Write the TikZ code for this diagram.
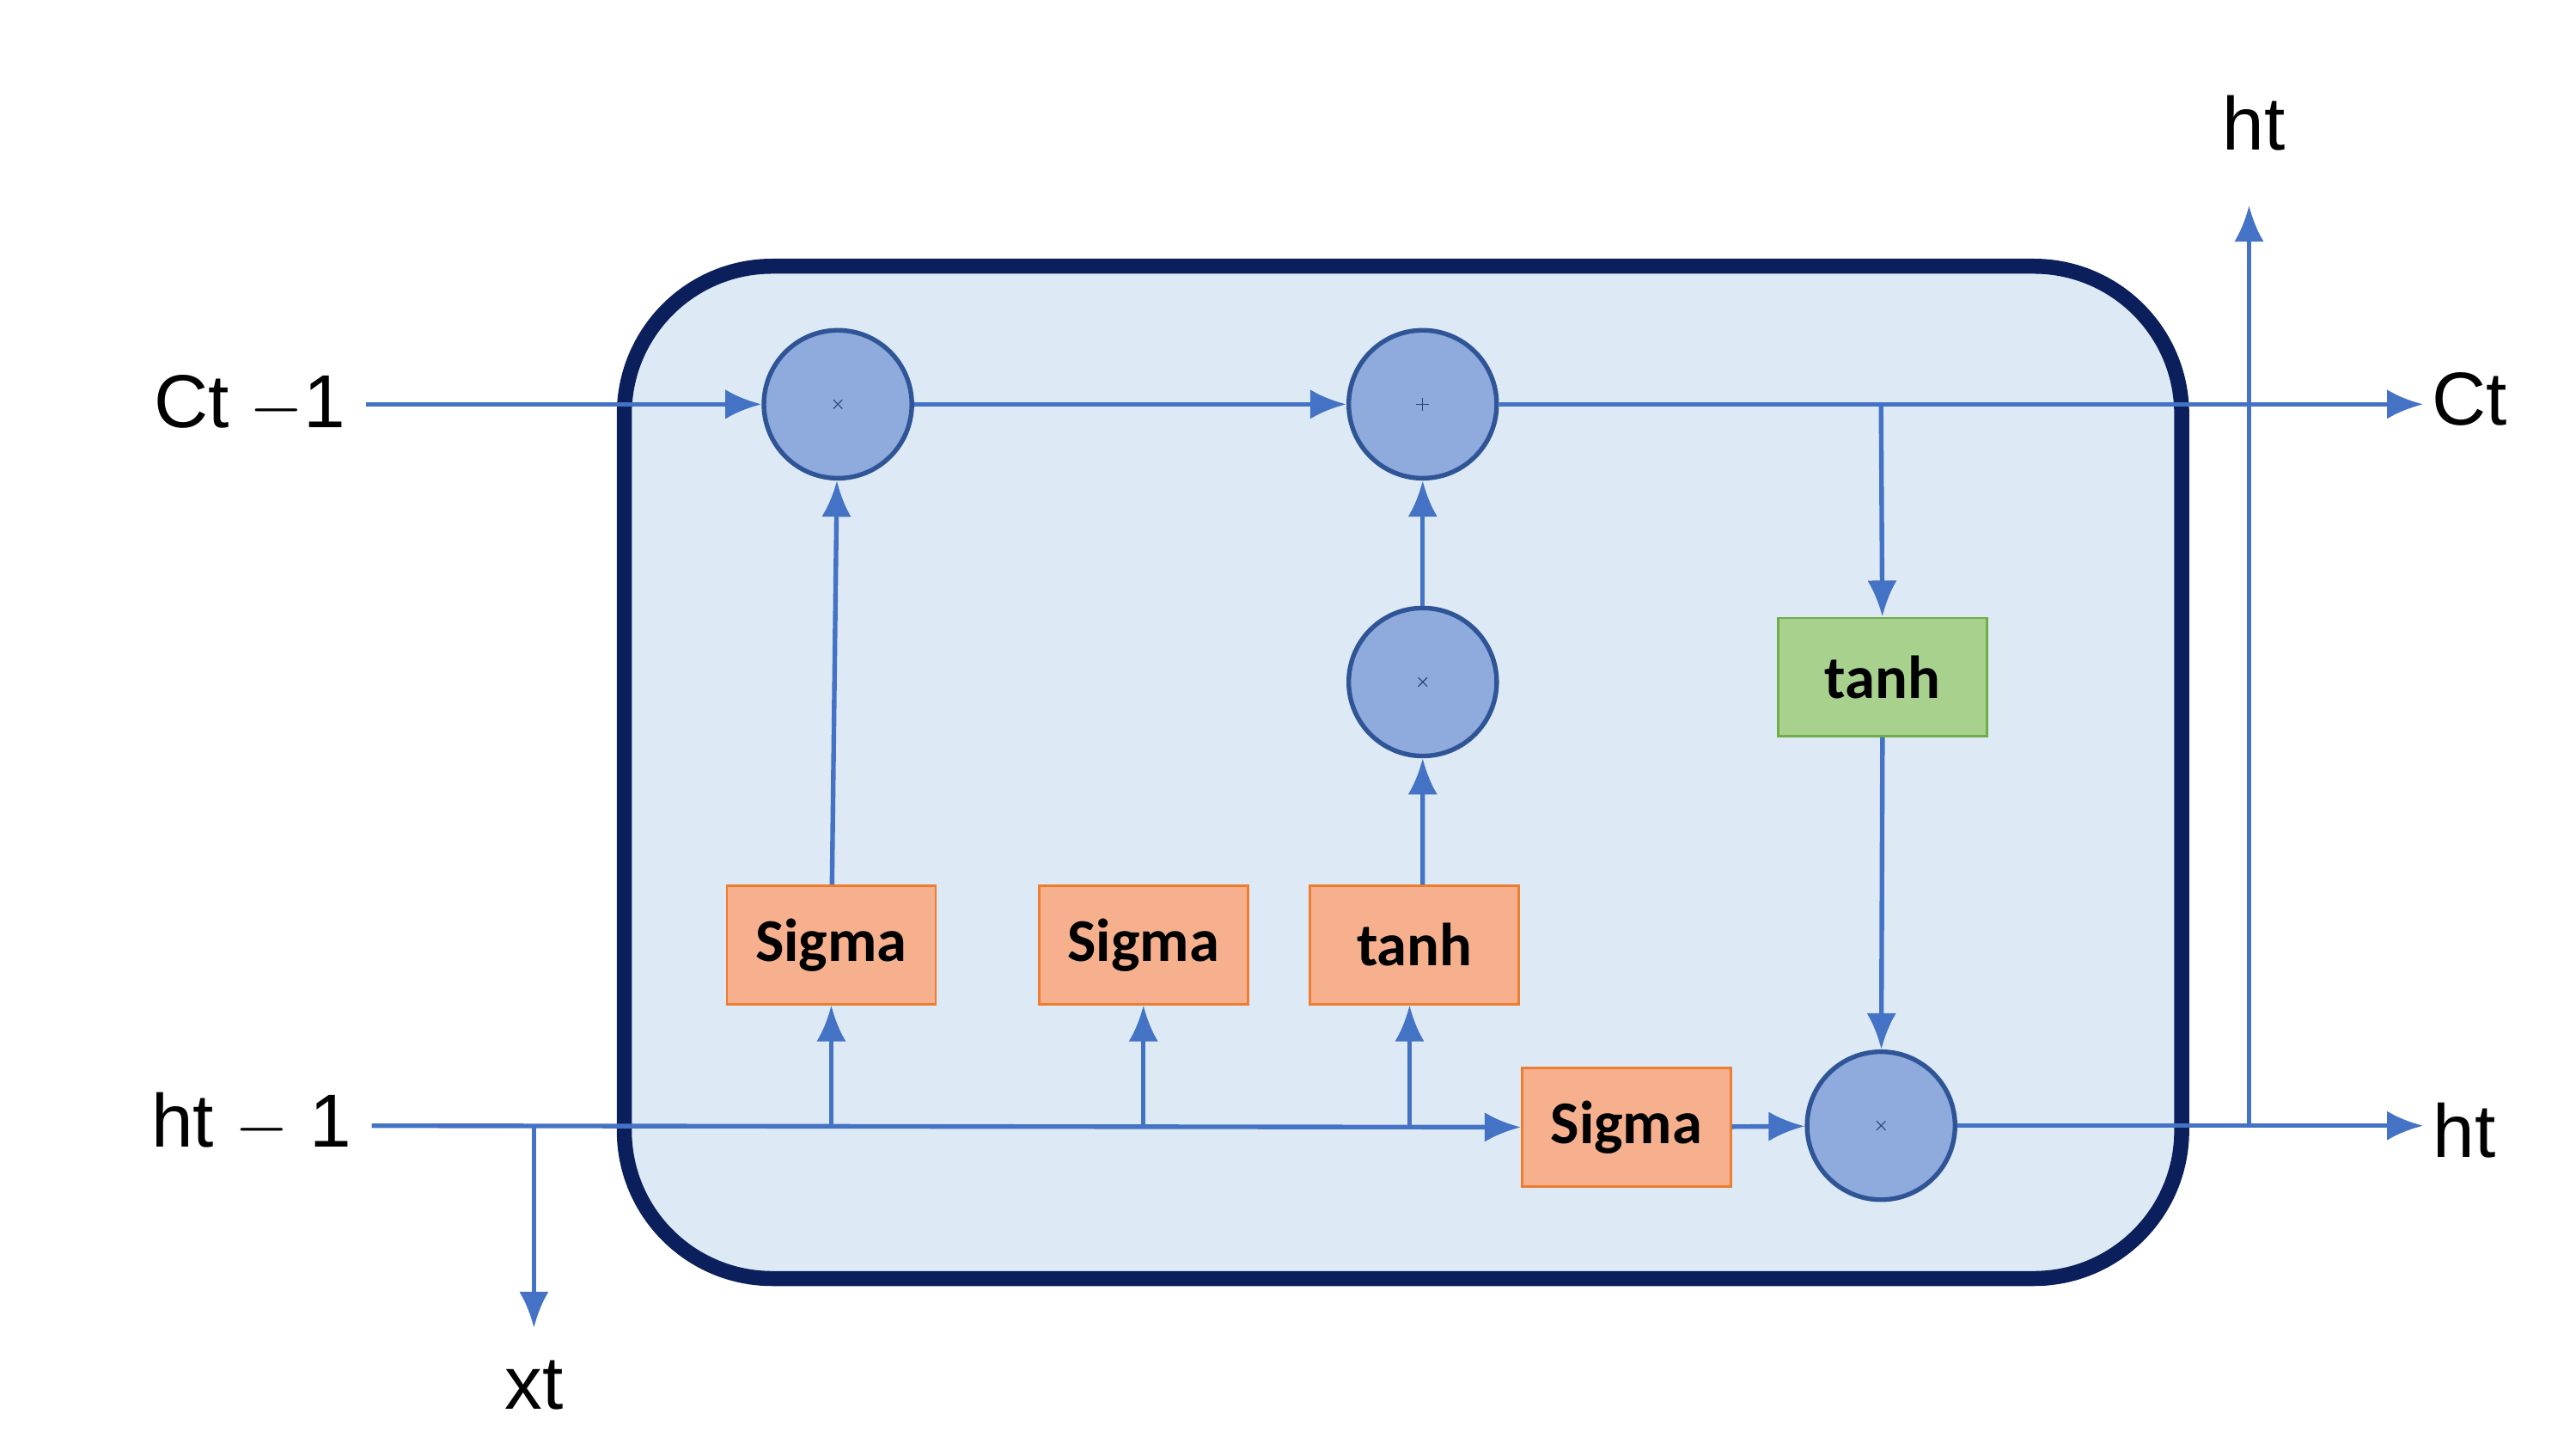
\documentclass[tikz,border=0pt]{standalone}
\usepackage{fontspec}
\setmainfont{Liberation Sans}
\newfontfamily\boxfont{Carlito}
\usetikzlibrary{arrows.meta, positioning}
\definecolor{wire}{HTML}{4472C4}
\definecolor{navy}{HTML}{0B1F5C}
\definecolor{cellfill}{HTML}{DDEAF6}
\definecolor{opfill}{HTML}{8FAADC}
\definecolor{opdraw}{HTML}{2F5597}
\definecolor{orangefill}{HTML}{F7B08D}
\definecolor{orangedraw}{HTML}{ED7D31}
\definecolor{greenfill}{HTML}{A9D18E}
\definecolor{greendraw}{HTML}{70AD47}
\tikzset{
  op/.style={circle, draw=opdraw, fill=opfill, thick, minimum size=0.9cm, inner sep=0pt},
  times/.style={op, path picture={
      \draw[opdraw!80!black, line width=2.2pt]
        ([shift={(-0.2,-0.2)}]path picture bounding box.center) -- ([shift={(0.2,0.2)}]path picture bounding box.center)
        ([shift={(-0.2,0.2)}]path picture bounding box.center) -- ([shift={(0.2,-0.2)}]path picture bounding box.center);}},
  plus/.style={op, path picture={
      \draw[opdraw!80!black, line width=2.2pt]
        ([shift={(-0.23,0)}]path picture bounding box.center) -- ([shift={(0.23,0)}]path picture bounding box.center)
        ([shift={(0,0.23)}]path picture bounding box.center) -- ([shift={(0,-0.23)}]path picture bounding box.center);}},
  gate/.style={rectangle, draw=orangedraw, fill=orangefill, minimum width=1.27cm, minimum height=0.72cm,
    font=\boxfont\bfseries\fontsize{10.5pt}{12pt}\selectfont},
  squash/.style={gate, draw=greendraw, fill=greenfill},
  lab/.style={font=\fontsize{13pt}{15pt}\selectfont},
  wire/.style={draw=wire, thick, -{Latex[length=2.2mm, width=1.8mm]}}
}
\begin{document}
\begin{tikzpicture}[x=0.01cm, y=-0.01cm]
  \useasboundingbox (0,0) rectangle (1568,882);
  % cell body
  \draw[navy, line width=2.6pt, fill=cellfill, rounded corners=0.9cm] (380,162) rectangle (1328,778);

  % operators
  \node[times] (m1) at (510,246) {};
  \node[plus]  (add) at (866,246) {};
  \node[times] (m2) at (866,415) {};
  \node[times] (m3) at (1145,685) {};

  % gates
  \node[gate] (sf) at (506,575) {Sigma};
  \node[gate] (si) at (696,575) {Sigma};
  \node[gate] (tc) at (861,575) {tanh};
  \node[gate] (so) at (990,686) {Sigma};
  \node[squash] (th) at (1146,412) {tanh};

  % labels
  \node[lab] (cin) at (152,246) {Ct $-$1};
  \node[lab] (hin) at (153,683) {ht $-$ 1};
  \node[lab] (xt) at (325,843) {xt};
  \node[lab] (htop) at (1372,75) {ht};
  \node[lab] (cout) at (1503,243) {Ct};
  \node[lab] (hout) at (1500,688) {ht};

  \coordinate (cend) at (1475,246);
  \coordinate (hend) at (1475,685);
  \coordinate (ctap) at (1145,246);
  \coordinate (htap) at (1369,685);
  \coordinate (hup) at (1369,125);
  \coordinate (xtap) at (325,685);
  \coordinate (xdown) at (325,808);

  % cell state
  \draw[wire] (cin.east) -- (m1);
  \draw[wire] (m1) -- (add);
  \draw[wire] (add) -- (cend);
  \draw[wire] (ctap) -- (th);
  \draw[wire] (th) -- (m3);

  % hidden state
  \draw[wire] (hin.east |- xtap) -- (so);
  \draw[wire] (xtap) -- (xdown);
  \draw[wire] (sf.south |- xtap) -- (sf);
  \draw[wire] (si.south |- xtap) -- (si);
  \draw[wire] ([xshift=-0.03cm]tc.south |- xtap) -- ([xshift=-0.03cm]tc.south);
  \draw[wire] (sf) -- (m1);
  \draw[wire] ([xshift=0.05cm]tc.north) -- (m2);
  \draw[wire] (m2) -- (add);
  \draw[wire] (so) -- (m3);
  \draw[wire] (m3) -- (hend);
  \draw[wire] (htap) -- (hup);
\end{tikzpicture}
\end{document}
